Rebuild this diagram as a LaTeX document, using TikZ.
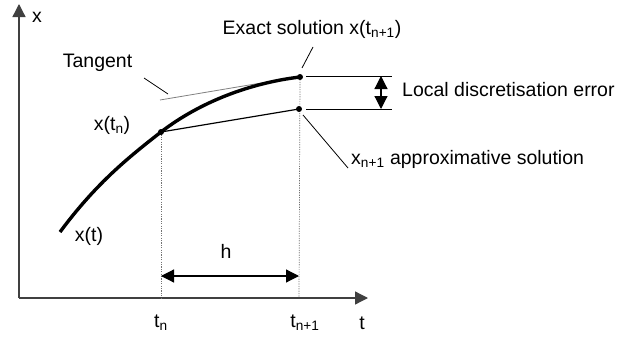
\documentclass[tikz,border=0pt]{standalone}
\usepackage{fontspec}
\setmainfont{Liberation Sans}
\usetikzlibrary{arrows.meta}
\begin{document}
\begin{tikzpicture}[x=1pt,y=-1pt,
  every node/.style={inner sep=0pt,font=\fontsize{19.5}{22}\selectfont},
  axis/.style={draw=black!75,line width=1.3pt,-{Triangle[length=13pt,width=13pt]}},
  dimarrow/.style={draw=black,line width=1.2pt,{Triangle[length=13pt,width=13pt]}-{Triangle[length=13pt,width=13pt]}},
  guide/.style={draw=black!55,line width=0.7pt,dash pattern=on 1.2pt off 1.2pt},
  leader/.style={draw=black,line width=0.8pt},
  curve/.style={draw=black,line width=3.4pt},
  dot/.style={circle,fill=black,minimum size=6pt,inner sep=0pt}
]
\useasboundingbox (0,0) rectangle (635,340);
% coordinates
\coordinate (O) at (19,298);
\coordinate (ytip) at (19,4);
\coordinate (xtip) at (368,298);
\coordinate (c0) at (60,232);
\coordinate (Pn) at (161,132);
\coordinate (Pe) at (300,77);
\coordinate (Pa) at (299,109);
\coordinate (tnb) at (161,298);
\coordinate (tnnb) at (299,298);
% axes
\draw[axis] (O) -- (ytip);
\draw[axis] (O) -- (xtip);
% guides
\draw[guide] (Pn) -- (tnb);
\draw[guide] (Pe) -- (tnnb);
% tangent line
\coordinate (tg1) at (160,100);
\coordinate (tg2) at (285,79);
\draw[draw=black!50,line width=0.8pt] (tg1) -- (tg2);
% curve
\draw[curve] (c0) .. controls (95,185) and (125,160) .. (Pn) .. controls (200,102) and (250,83) .. (Pe);
% euler step
\draw[line width=1.2pt] (Pn) -- (Pa);
% dots
\node[dot] (dn) at (Pn) {};
\node[dot] (de) at (Pe) {};
\node[dot] (da) at (Pa) {};
% error lines
\coordinate (e1a) at (306,76);
\coordinate (e1b) at (392,76);
\coordinate (e2a) at (306,109);
\coordinate (e2b) at (392,109);
\draw[line width=0.9pt] (e1a) -- (e1b);
\draw[line width=0.9pt] (e2a) -- (e2b);
\coordinate (er1) at (381,76);
\coordinate (er2) at (381,109);
\draw[dimarrow] (er1) -- (er2);
% h arrow
\coordinate (h1) at (161,276);
\coordinate (h2) at (299,276);
\draw[dimarrow] (h1) -- (h2);
% labels
\node (lx) at (37,17) {x};
\node (lt) at (362,323) {t};
\node (ltn) at (161,323) {t\textsubscript{n}};
\node (ltnn) at (305,323) {t\textsubscript{n+1}};
\node (lh) at (226,251) {h};
\node (lxt) at (89,236) {x(t)};
\node (lxtn) at (112,125) {x(t\textsubscript{n})};
\node (ltan) at (97.5,63) {Tangent};
\node (lex) at (312,29) {Exact solution x(t\textsubscript{n+1})};
\node[anchor=west] (lerr) at (402,90) {Local discretisation error};
\node[anchor=west] (lapp) at (351,159) {x\textsubscript{n+1} approximative solution};
% leaders
\coordinate (tl1) at (144,78);
\coordinate (tl2) at (168,94);
\draw[leader] (tl1) -- (tl2);
\coordinate (el1) at (313,47);
\coordinate (el2) at (302,68);
\draw[leader] (el1) -- (el2);
\coordinate (al1) at (303,115);
\coordinate (al2) at (348,168);
\draw[leader] (al1) -- (al2);
\end{tikzpicture}
\end{document}
